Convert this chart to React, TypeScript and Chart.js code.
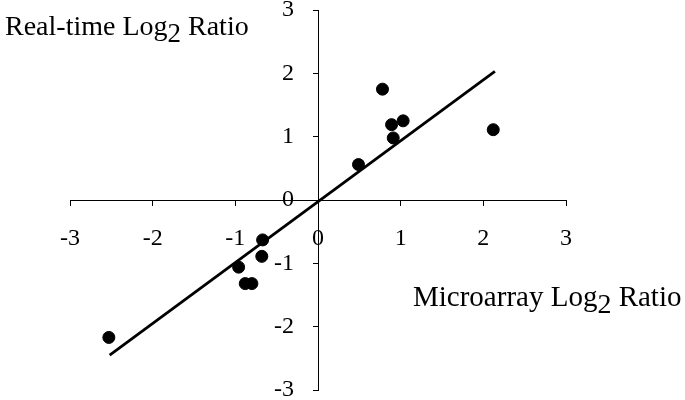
import React, { useEffect, useRef } from "react";
import { Chart, registerables } from "chart.js";

Chart.register(...registerables);

const microarray = [-2.53, -0.96, -0.88, -0.8, -0.67, -0.68, 0.49, 0.78, 0.89, 0.91, 1.03, 2.12];
const realtime = [-2.17, -1.06, -1.32, -1.32, -0.63, -0.89, 0.56, 1.75, 1.19, 0.98, 1.25, 1.11];
const trendX = [-2.52, 2.14];
const trendY = [-2.45, 2.03];
const tickValues = [-3, -2, -1, 0, 1, 2, 3];

const FONT = "'Liberation Serif', 'Times New Roman', serif";

export default function App() {
  const ref = useRef<HTMLCanvasElement | null>(null);
  useEffect(() => {
    if (!ref.current) return;
    const zeroPad = (s: any) => {
      s.paddingTop = 0;
      s.paddingBottom = 0;
    };
    const chart = new Chart(ref.current, {
      type: "scatter",
      data: {
        datasets: [
          {
            type: "line",
            data: trendX.map((x, i) => ({ x, y: trendY[i] })),
            borderColor: "#000",
            borderWidth: 2.8,
            pointRadius: 0,
            fill: false,
          } as any,
          {
            data: microarray.map((x, i) => ({ x, y: realtime[i] })),
            backgroundColor: "#000",
            borderColor: "#000",
            pointRadius: 6,
            pointHoverRadius: 6,
          },
        ],
      },
      options: {
        responsive: false,
        animation: false,
        events: [],
        layout: { padding: { left: 70, right: 119, top: 10, bottom: 10 } },
        plugins: { legend: { display: false }, tooltip: { enabled: false } },
        scales: {
          x: {
            type: "linear",
            min: -3,
            max: 3,
            position: { y: 0 } as any,
            afterBuildTicks: (s: any) => {
              s.ticks = tickValues.map((v) => ({ value: v }));
            },
            border: { display: true, color: "#000", width: 1 },
            grid: { drawOnChartArea: false, drawTicks: true, tickLength: 5, color: "#000", lineWidth: 1 },
            ticks: {
              autoSkip: false,
              maxRotation: 0,
              padding: 19,
              color: "#000",
              font: { family: FONT, size: 24 },
            },
          },
          y: {
            type: "linear",
            min: -3,
            max: 3,
            position: { x: 0 } as any,
            afterBuildTicks: (s: any) => {
              s.ticks = tickValues.map((v) => ({ value: v }));
            },
            afterFit: zeroPad,
            border: { display: true, color: "#000", width: 1 },
            grid: { drawOnChartArea: false, drawTicks: true, tickLength: 5, color: "#000", lineWidth: 1 },
            ticks: {
              autoSkip: false,
              color: "#000",
              font: { family: FONT, size: 24 },
              callback: (v: any) => String(v) + "\u2002\u2002",
            },
          },
        },
      },
    });
    return () => chart.destroy();
  }, []);

  const titleStyle: React.CSSProperties = {
    position: "absolute",
    fontFamily: FONT,
    fontSize: 28,
    lineHeight: "28px",
    color: "#000",
    whiteSpace: "nowrap",
  };
  const subStyle: React.CSSProperties = {
    fontSize: 27,
    position: "relative",
    top: 7,
  };

  return (
    <div style={{ position: "absolute", left: 0, top: 0, width: 685, height: 400, background: "#fff" }}>
      <canvas ref={ref} width={685} height={400} style={{ position: "absolute", left: 0, top: 0 }} />
      <div style={{ ...titleStyle, left: 5, top: 12 }}>
        Real-time Log<span style={subStyle}>2</span> Ratio
      </div>
      <div style={{ ...titleStyle, fontSize: 29, left: 413, top: 282 }}>
        Microarray Log<span style={{ ...subStyle, fontSize: 28 }}>2</span> Ratio
      </div>
    </div>
  );
}
